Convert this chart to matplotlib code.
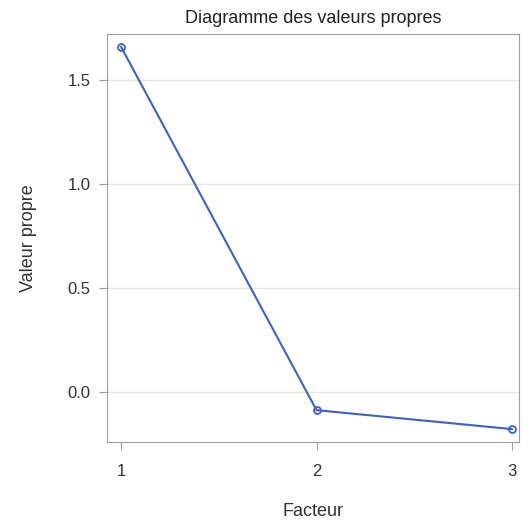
import matplotlib.pyplot as plt

# Eigenvalues per factor
factors = [1, 2, 3]
eigenvalues = [1.659, -0.087, -0.178]
y_ticks = [0.0, 0.5, 1.0, 1.5]

plt.rcParams['font.family'] = ['Liberation Sans', 'DejaVu Sans']

fig = plt.figure(figsize=(5.3, 5.26), dpi=100)
ax = fig.add_axes([0.2019, 0.1597, 0.7773, 0.7757])

ax.plot(factors, eigenvalues, color='#3c62c6', linewidth=1.5,
        marker='o', markersize=5, markerfacecolor='none',
        markeredgecolor='#3c62c6', markeredgewidth=1.3)

ax.set_xlim(0.928, 3.036)
ax.set_ylim(-0.240, 1.721)
ax.set_xticks(factors)
ax.set_yticks(y_ticks)
ax.set_yticklabels([f"{v:.1f}" for v in y_ticks])

ax.grid(axis='y', color='#e6e6e6', linewidth=1)
ax.set_axisbelow(True)
for s in ax.spines.values():
    s.set_color('#a0a0a0')
ax.tick_params(colors='#a0a0a0', labelcolor='#333333', labelsize=12, length=6)
ax.tick_params(axis='x', pad=10)
ax.tick_params(axis='y', pad=6)

ax.set_title("Diagramme des valeurs propres", fontsize=13, color='#222222', pad=8)
ax.set_xlabel("Facteur", fontsize=13, color='#333333', labelpad=17)
ax.set_ylabel("Valeur propre", fontsize=13, color='#333333', labelpad=22)

fig.savefig("out.png", dpi=100)
